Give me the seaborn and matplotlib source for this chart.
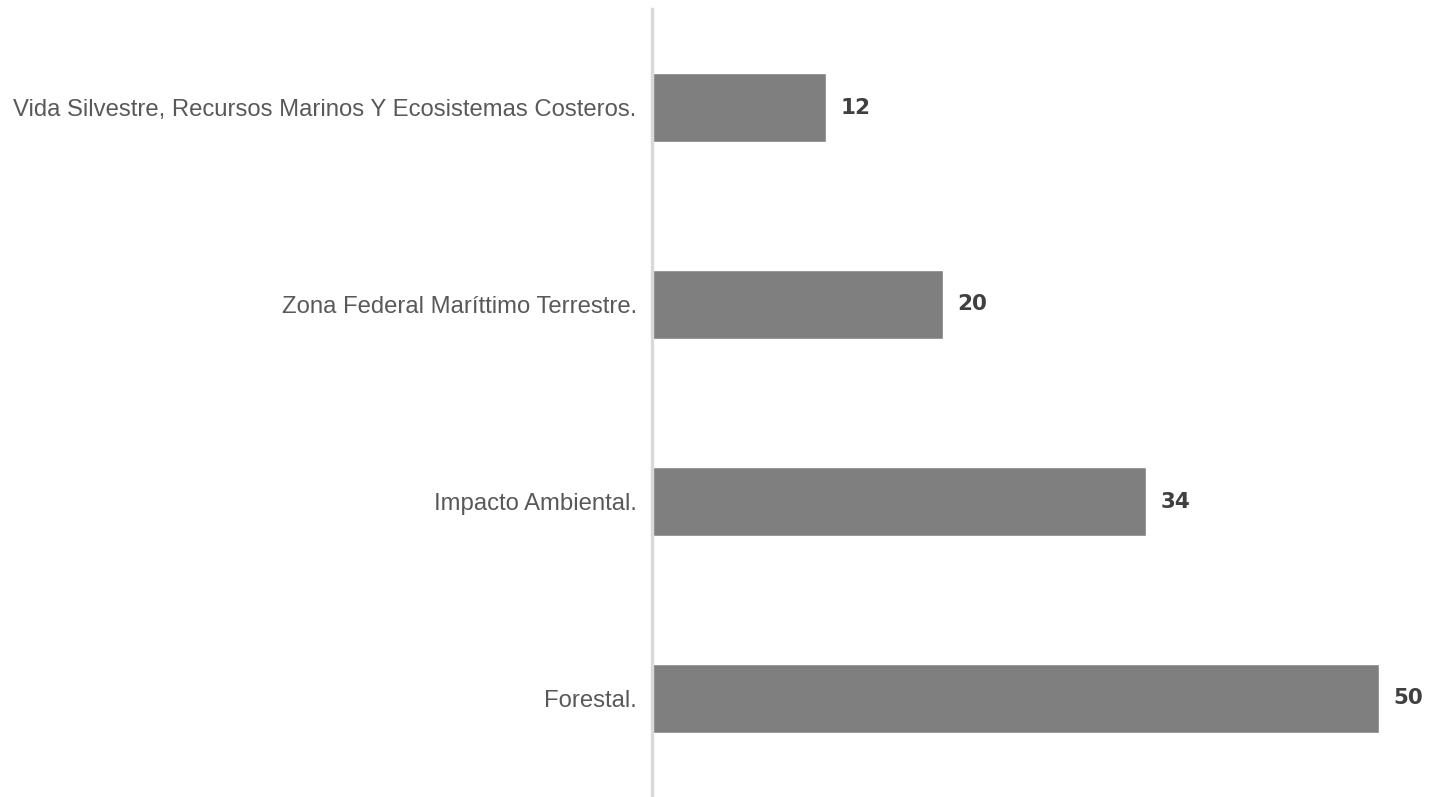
import matplotlib
matplotlib.use('Agg')
import matplotlib.pyplot as plt
import seaborn as sns
import pandas as pd

# Datos
categorias = ['Vida Silvestre, Recursos Marinos Y Ecosistemas Costeros.',
              'Zona Federal Maríttimo Terrestre.',
              'Impacto Ambiental.',
              'Forestal.']
valores = [12, 20, 34, 50]

df = pd.DataFrame({'Categoria': categorias, 'Valor': valores})

sns.set_style('white')
fig = plt.figure(figsize=(14.35, 7.97), dpi=100)
ax = fig.add_axes([652 / 1435, 0, 1 - 652 / 1435, 788 / 797])

sns.barplot(data=df, x='Valor', y='Categoria', color='#7f7f7f', saturation=1,
            width=0.355, ax=ax, orient='h')

ax.set_xlim(0, 53.85)
ax.set_ylim(3.5, -0.5)
ax.set_xlabel('')
ax.set_ylabel('')
ax.set_xticks([])
for s in ['top', 'right', 'bottom']:
    ax.spines[s].set_visible(False)
ax.spines['left'].set_color('#d9d9d9')
ax.spines['left'].set_linewidth(2.5)
ax.tick_params(axis='y', length=0, pad=11, labelsize=17.2, labelcolor='#595959')
for lbl in ax.get_yticklabels():
    lbl.set_fontfamily('Liberation Sans')

# Etiquetas de valor
for i, v in enumerate(valores):
    ax.text(v + 1.0, i, str(v), va='center', ha='left', fontsize=15.5,
            fontweight='bold', color='#404040', family='DejaVu Sans')

fig.savefig('out.png', dpi=100)
